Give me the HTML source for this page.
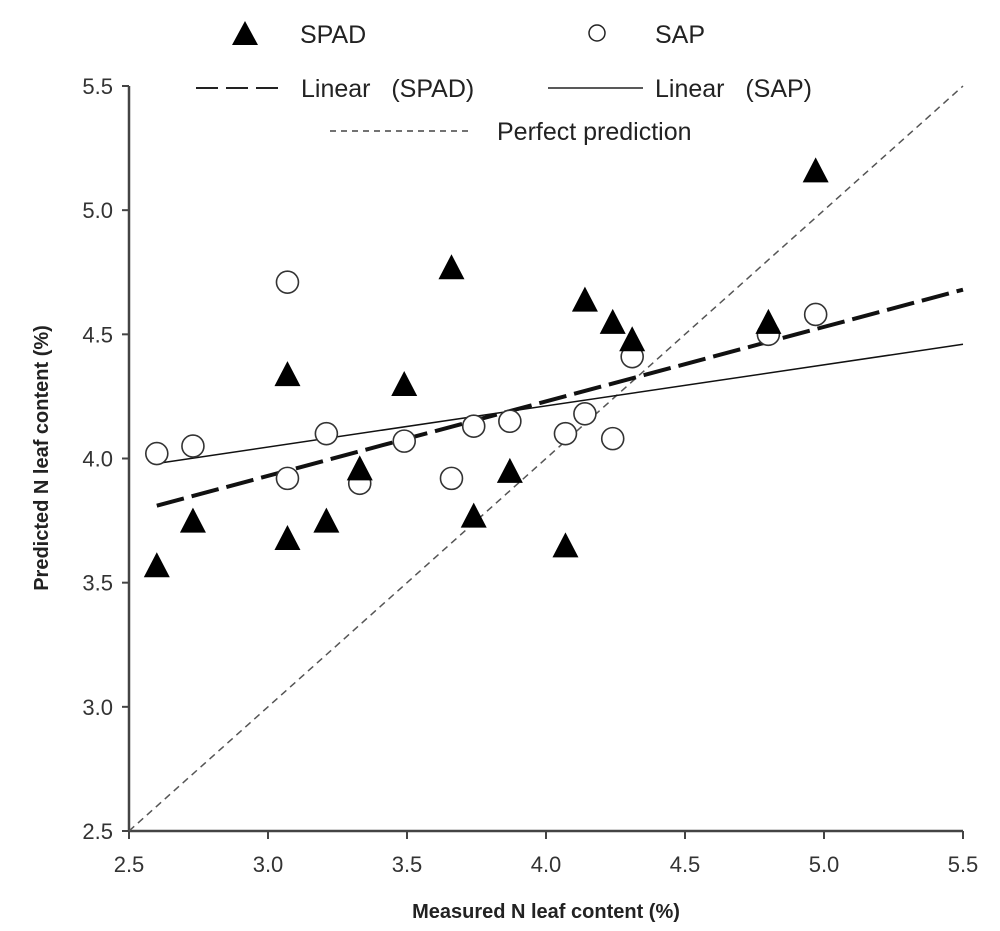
<!DOCTYPE html>
<html><head><meta charset="utf-8"><style>
body{margin:0;background:#fff;}
svg{display:block;font-family:"Liberation Sans",Arial,sans-serif;}
</style></head><body>
<svg id="chart" width="1000" height="931" viewBox="0 0 1000 931" xmlns="http://www.w3.org/2000/svg">
<g id="legend">
  <g><polygon points="232,45 245,21 258,45" fill="#000"/><text x="300" y="43" font-size="25" fill="#222">SPAD</text></g>
  <g><circle cx="597" cy="33" r="8" fill="#fff" stroke="#222" stroke-width="1.5"/><text x="655" y="43" font-size="25" fill="#222">SAP</text></g>
  <g><line x1="196" y1="88" x2="278" y2="88" stroke="#222" stroke-width="2" stroke-dasharray="22,8"/><text x="301" y="97" font-size="25" fill="#222" xml:space="preserve">Linear   (SPAD)</text></g>
  <g><line x1="548" y1="88" x2="643" y2="88" stroke="#222" stroke-width="1.5"/><text x="655" y="97" font-size="25" fill="#222" xml:space="preserve">Linear   (SAP)</text></g>
  <g><line x1="330" y1="131" x2="472" y2="131" stroke="#444" stroke-width="1.5" stroke-dasharray="6,5"/><text x="497" y="140" font-size="25" fill="#222">Perfect prediction</text></g>
</g>
<g id="axes"></g>
<g id="marks"></g>
<text x="546" y="918" font-size="20" font-weight="bold" text-anchor="middle" fill="#222">Measured N leaf content (%)</text>
<text transform="translate(48,458) rotate(-90)" font-size="20" font-weight="bold" text-anchor="middle" fill="#222">Predicted N leaf content (%)</text>
</svg>
<script>
const measured = [2.6,2.73,3.07,3.07,3.21,3.33,3.49,3.66,3.74,3.87,4.07,4.14,4.24,4.31,4.80,4.97];
const spadValues = [3.57,3.75,3.68,4.34,3.75,3.96,4.30,4.77,3.77,3.95,3.65,4.64,4.55,4.48,4.55,5.16];
const sapMeasured = [2.6,2.73,3.07,3.07,3.21,3.33,3.49,3.66,3.74,3.87,4.07,4.14,4.24,4.31,4.80,4.97];
const sapValues = [4.02,4.05,4.71,3.92,4.10,3.90,4.07,3.92,4.13,4.15,4.10,4.18,4.08,4.41,4.50,4.58];
const fitX = [2.6,5.5];
const spadFit = [3.81,4.68];
const sapFit = [3.98,4.46];
const xTicks = ["2.5","3.0","3.5","4.0","4.5","5.0","5.5"];
const yTicks = ["2.5","3.0","3.5","4.0","4.5","5.0","5.5"];
const NS="http://www.w3.org/2000/svg";
const X0=129,X1=963,Y0=831,Y1=86,VMIN=2.5,VMAX=5.5;
const sx=v=>X0+(v-VMIN)/(VMAX-VMIN)*(X1-X0);
const sy=v=>Y0-(v-VMIN)/(VMAX-VMIN)*(Y0-Y1);
function mk(tag,attrs,parent){const e=document.createElementNS(NS,tag);for(const k in attrs)e.setAttribute(k,attrs[k]);parent.appendChild(e);return e;}
const axes=document.getElementById('axes'),marks=document.getElementById('marks');
let a=mk('line',{x1:X0,y1:Y1,x2:X0,y2:Y0,stroke:'#444','stroke-width':2.5},axes);


a=mk('line',{x1:X0,y1:Y0,x2:X1,y2:Y0,stroke:'#444','stroke-width':2.5},axes);


xTicks.forEach(t=>{const x=sx(+t);
 mk('line',{x1:x,y1:Y0,x2:x,y2:Y0+8,stroke:'#444','stroke-width':2},axes);
 const tx=mk('text',{x:x,y:Y0+41,'font-size':22,'text-anchor':'middle',fill:'#333'},axes);tx.textContent=t;
 
 });
yTicks.forEach(t=>{const y=sy(+t);
 mk('line',{x1:X0-7,y1:y,x2:X0,y2:y,stroke:'#444','stroke-width':2},axes);
 const tx=mk('text',{x:X0-16,y:y+8,'font-size':22,'text-anchor':'end',fill:'#333'},axes);tx.textContent=t;
 
 });
let pl=mk('line',{x1:sx(2.5),y1:sy(2.5),x2:sx(5.5),y2:sy(5.5),stroke:'#555','stroke-width':1.5,'stroke-dasharray':'7,5'},marks);


let l1=mk('line',{x1:sx(fitX[0]),y1:sy(spadFit[0]),x2:sx(fitX[1]),y2:sy(spadFit[1]),stroke:'#111','stroke-width':4,'stroke-dasharray':'28,8'},marks);


let l2=mk('line',{x1:sx(fitX[0]),y1:sy(sapFit[0]),x2:sx(fitX[1]),y2:sy(sapFit[1]),stroke:'#111','stroke-width':1.5},marks);


sapMeasured.forEach((m,i)=>{const c=mk('circle',{cx:sx(m),cy:sy(sapValues[i]),r:11,fill:'#fff',stroke:'#333','stroke-width':1.6},marks);
 
 });
measured.forEach((m,i)=>{const x=sx(m),y=sy(spadValues[i]);
 const p=mk('polygon',{points:`${x-13},${y+12} ${x},${y-13} ${x+13},${y+12}`,fill:'#000'},marks);
 
 });
</script>
</body></html>
